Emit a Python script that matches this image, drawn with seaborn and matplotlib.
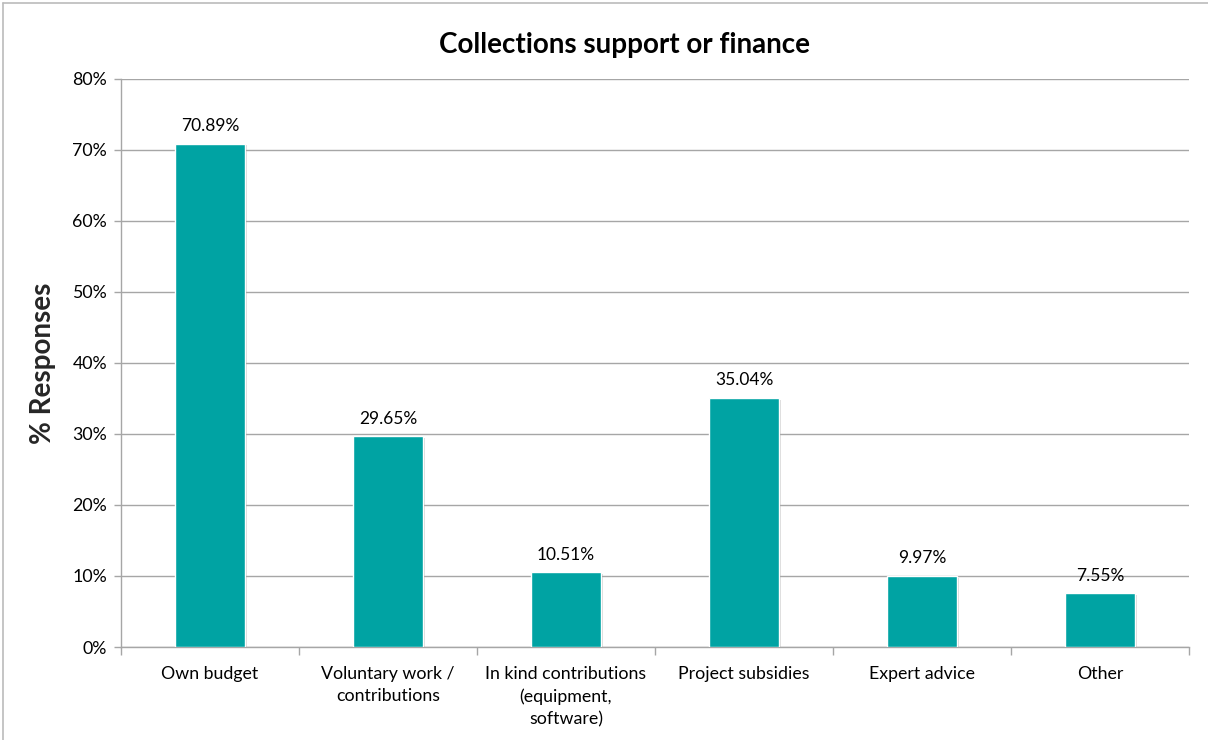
import matplotlib
matplotlib.use("Agg")
import matplotlib.pyplot as plt
import matplotlib.patheffects as pe
import seaborn as sns
import pandas as pd
from matplotlib.lines import Line2D
from matplotlib.ticker import FuncFormatter, MultipleLocator, FixedLocator

categories = ["Own budget", "Voluntary work /\ncontributions",
              "In kind contributions\n(equipment,\nsoftware)", "Project subsidies",
              "Expert advice", "Other"]
values = [70.89, 29.65, 10.51, 35.04, 9.97, 7.55]
value_labels = ["70.89%", "29.65%", "10.51%", "35.04%", "9.97%", "7.55%"]
title = "Collections support or finance"
ylabel = "% Responses"

sns.set_theme(style="white")
plt.rcParams['font.family'] = ['Lato', 'DejaVu Sans']

df = pd.DataFrame({"cat": categories, "val": values})

fig = plt.figure(figsize=(12.08, 7.40), dpi=100)
ax = fig.add_axes([121/1208, 1-647/740, (1189-121)/1208, (647-79)/740])

grid_c = "#A6A6A6"
sns.barplot(data=df, x="cat", y="val", color="#00A3A3", saturation=1,
            width=0.39, ax=ax, zorder=3)
for p in ax.patches:
    p.set_path_effects([pe.SimplePatchShadow(offset=(1.5, -1), alpha=0.25,
                                             shadow_rgbFace="#666666"), pe.Normal()])

ax.set_ylim(0, 80)
ax.set_xlim(-0.5, len(categories) - 0.5)
ax.yaxis.set_major_locator(MultipleLocator(10))
ax.yaxis.set_major_formatter(FuncFormatter(lambda v, p: f"{v:.0f}%"))
ax.grid(axis="y", color=grid_c, linewidth=1.0, zorder=0)
ax.set_axisbelow(True)

for s in ["top", "right"]:
    ax.spines[s].set_visible(False)
for s in ["left", "bottom"]:
    ax.spines[s].set_color(grid_c)
    ax.spines[s].set_linewidth(1.0)

ax.tick_params(axis="y", which="major", left=True, length=5, width=1,
               color=grid_c, labelsize=12.8, pad=5, labelcolor="#000000")
ax.tick_params(axis="x", which="major", bottom=False, length=0, labelsize=12.8,
               pad=14, labelcolor="#000000")
for t in ax.get_xticklabels():
    t.set_linespacing(1.45)
ax.xaxis.set_minor_locator(FixedLocator([i - 0.5 for i in range(len(categories) + 1)]))
ax.tick_params(axis="x", which="minor", bottom=True, length=6, width=1, color=grid_c)

ax.set_xlabel("")
ax.set_ylabel(ylabel, fontsize=20, fontweight="bold", labelpad=12)

fig.text(625/1208, 1 - 45/740, title, fontsize=20, fontweight="bold",
         ha="center", va="center", color="#000000")

for i, (v, lab) in enumerate(zip(values, value_labels)):
    ax.annotate(lab, (i, v), xytext=(0, 7), textcoords="offset points",
                ha="center", va="bottom", fontsize=12.5, color="#000000")

# partial frame (left and top border)
fig.add_artist(Line2D([3/1208, 3/1208], [0, 1 - 3/740], transform=fig.transFigure,
                      color="#BBBBBB", linewidth=1.2))
fig.add_artist(Line2D([3/1208, 1], [1 - 3/740, 1 - 3/740], transform=fig.transFigure,
                      color="#BBBBBB", linewidth=1.2))

fig.savefig("out.png", dpi=100)
